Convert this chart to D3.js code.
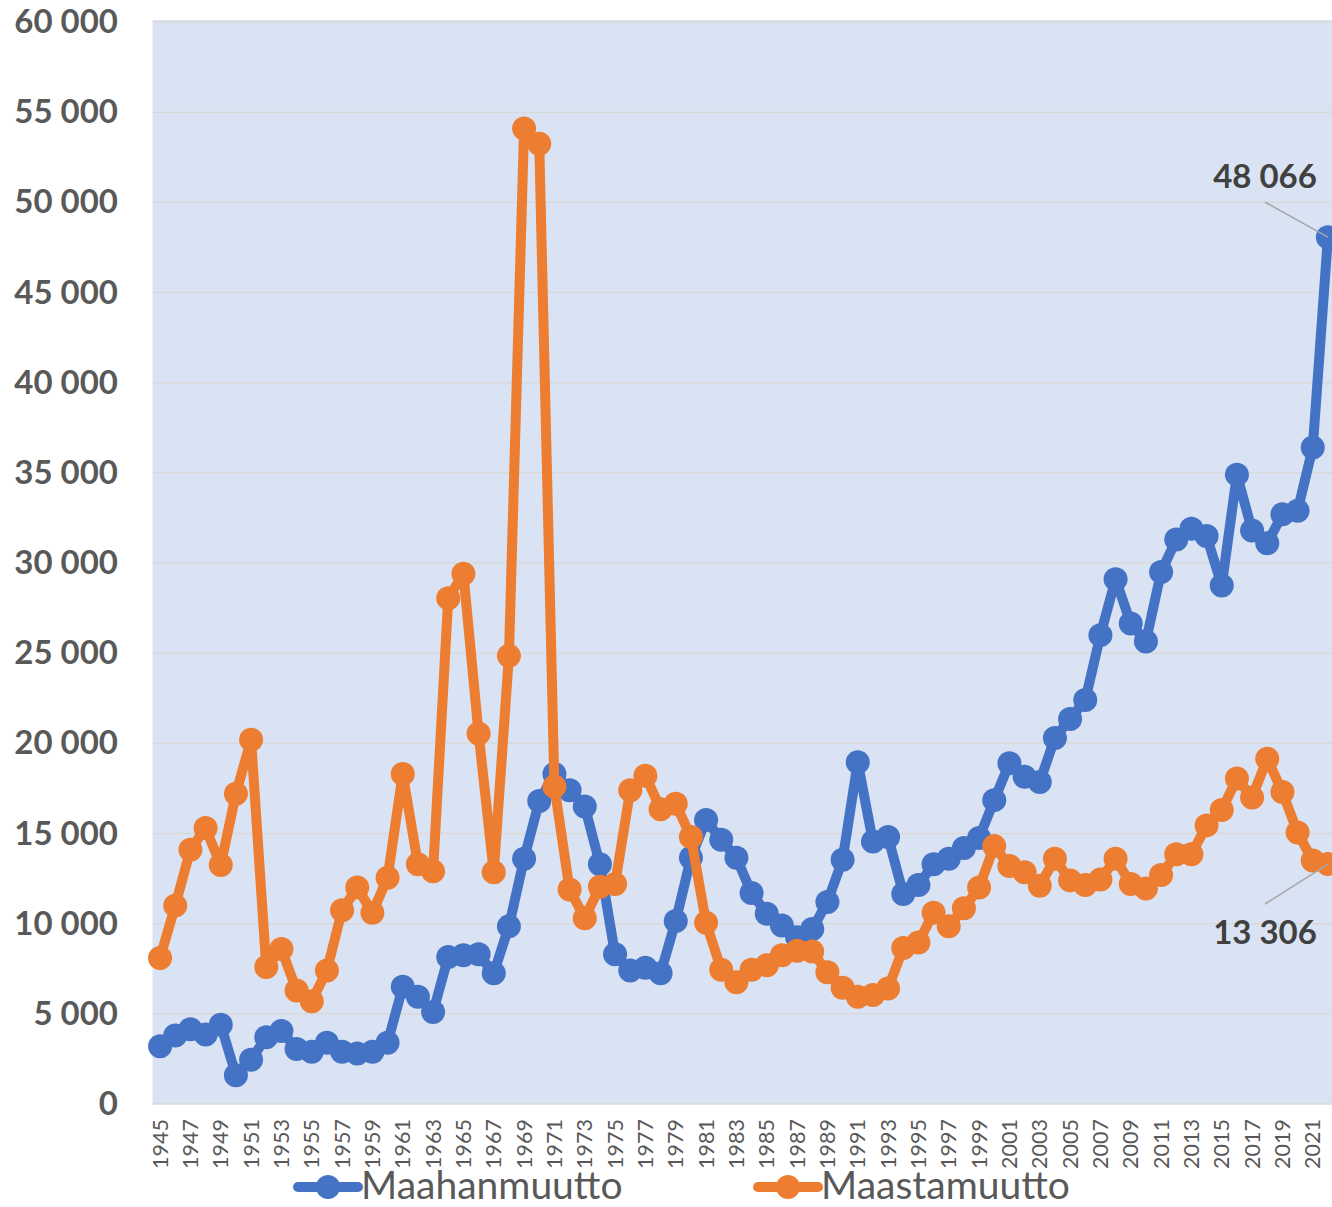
<!DOCTYPE html>
<html>
<head>
<meta charset="utf-8">
<script src="https://cdn.jsdelivr.net/npm/d3@7"></script>
<style>
  body { margin: 0; background: #fff; }
  text { font-family: Lato, "Open Sans", sans-serif; }
</style>
</head>
<body>
<script>
  // years 1945..2022
  let years = [];
  for (let y = 1945; y <= 2022; y++) years.push(y);

  // Maahanmuutto (immigration)
  let maahanmuutto = [
    3200, 3800, 4150, 3850, 4400, 1600, 2450, 3700, 4050, 3050,
    2900, 3400, 2900, 2800, 2900, 3400, 6500, 5950, 5100, 8150,
    8250, 8300, 7250, 9850, 13600, 16800, 18300, 17400, 16500, 13300,
    8300, 7400, 7550, 7250, 10150, 13650, 15750, 14650, 13650, 11700,
    10550, 9900, 9250, 9700, 11200, 13550, 18950, 14550, 14800, 11650,
    12150, 13300, 13600, 14200, 14750, 16850, 18900, 18150, 17850, 20300,
    21350, 22400, 26000, 29100, 26650, 25650, 29500, 31300, 31900, 31500,
    28750, 34900, 31800, 31100, 32700, 32900, 36400, 48066
  ];

  // Maastamuutto (emigration)
  let maastamuutto = [
    8100, 11000, 14100, 15300, 13250, 17200, 20200, 7600, 8600, 6300,
    5700, 7400, 10750, 12000, 10600, 12550, 18300, 13300, 12900, 28050,
    29400, 20550, 12850, 24850, 54100, 53250, 17600, 11900, 10300, 12050,
    12200, 17400, 18200, 16350, 16650, 14800, 10050, 7450, 6750, 7450,
    7700, 8250, 8500, 8450, 7300, 6450, 5950, 6050, 6400, 8650,
    8950, 10600, 9850, 10850, 12000, 14300, 13200, 12850, 12100, 13600,
    12400, 12150, 12450, 13600, 12200, 11950, 12700, 13850, 13850, 15450,
    16300, 18050, 17000, 19150, 17300, 15050, 13500, 13306
  ];

  let yTicks = d3.range(0, 60001, 5000);
  let seriesNames = ["Maahanmuutto", "Maastamuutto"];
  let seriesColors = ["#4472C4", "#ED7D31"];

  let width = 1332, height = 1207;
  let plot = { left: 152.5, right: 1335.5, top: 22, bottom: 1104 };

  let svgContainer = d3.select("body")
    .append("svg")
    .attr("width", width)
    .attr("height", height);

  let xScale = d3.scaleBand()
    .domain(years)
    .range([plot.left, plot.right]);
  let bw = xScale.bandwidth();
  let xMid = d => xScale(d) + bw / 2;

  let yScale = d3.scaleLinear()
    .domain([0, 60000])
    .range([plot.bottom, plot.top]);

  let fmt = d => d3.format(",")(d).replace(/,/g, " ");

  // plot background
  svgContainer.append("rect")
    .attr("x", plot.left)
    .attr("y", plot.top - 2)
    .attr("width", plot.right - plot.left)
    .attr("height", plot.bottom - plot.top + 2)
    .style("fill", "#DAE3F3");

  // gridlines
  svgContainer.append("g")
    .selectAll("line")
    .data(yTicks)
    .enter()
    .append("line")
    .attr("x1", plot.left)
    .attr("x2", plot.right)
    .attr("y1", d => yScale(d))
    .attr("y2", d => yScale(d))
    .style("stroke", "#D9D9D9")
    .attr("stroke-width", 1.5);

  // y axis
  let yAxis = svgContainer.append("g")
    .attr("transform", "translate(118, 0)")
    .call(d3.axisLeft(yScale).tickValues(yTicks).tickFormat(fmt).tickSize(0).tickPadding(0));
  yAxis.select(".domain").remove();
  yAxis.selectAll("text")
    .style("font-family", "Lato, sans-serif")
    .style("font-size", "33px")
    .style("font-weight", "bold")
    .style("fill", "#595959");

  // x axis labels (every other year)
  let xAxis = svgContainer.append("g")
    .attr("transform", "translate(0, " + plot.bottom + ")")
    .call(d3.axisBottom(xScale)
      .tickValues(years.filter(y => (y - 1945) % 2 == 0))
      .tickSize(0));
  xAxis.select(".domain").remove();
  xAxis.selectAll("text")
    .attr("transform", "rotate(-90)")
    .attr("text-anchor", "end")
    .attr("x", -15)
    .attr("y", 0)
    .attr("dy", "0.35em")
    .style("font-family", "Lato, sans-serif")
    .style("font-size", "21.5px")
    .style("fill", "#595959");

  // lines + markers
  let seriesData = [maahanmuutto, maastamuutto];
  let line = d3.line()
    .x((d, i) => xMid(years[i]))
    .y(d => yScale(d));

  seriesData.forEach((vals, s) => {
    svgContainer.append("path")
      .datum(vals)
      .attr("d", line)
      .style("fill", "none")
      .style("stroke", seriesColors[s])
      .attr("stroke-width", 10)
      .attr("stroke-linejoin", "round");

    svgContainer.append("g")
      .selectAll("circle")
      .data(vals)
      .enter()
      .append("circle")
      .attr("cx", (d, i) => xMid(years[i]))
      .attr("cy", d => yScale(d))
      .attr("r", 12)
      .style("fill", seriesColors[s]);
  });

  // data labels for the last year
  let last = years.length - 1;
  let labels = [
    { v: maahanmuutto[last], tx: 1265, ty: 188, lx: 1265, ly: 202 },
    { v: maastamuutto[last], tx: 1265, ty: 944, lx: 1265, ly: 904 }
  ];
  labels.forEach(l => {
    svgContainer.append("line")
      .attr("x1", l.lx)
      .attr("y1", l.ly)
      .attr("x2", xMid(years[last]))
      .attr("y2", yScale(l.v))
      .style("stroke", "#A6A6A6")
      .attr("stroke-width", 1.5);
    svgContainer.append("text")
      .attr("x", l.tx)
      .attr("y", l.ty)
      .attr("text-anchor", "middle")
      .style("font-size", "33px")
      .style("font-weight", "bold")
      .style("fill", "#404040")
      .text(fmt(l.v));
  });

  // legend
  let legendX = [298, 758];
  seriesNames.forEach((name, i) => {
    let g = svgContainer.append("g")
      .attr("transform", "translate(" + legendX[i] + ", 1187)");
    g.append("line")
      .attr("x1", 0).attr("x2", 60)
      .attr("y1", 0).attr("y2", 0)
      .style("stroke", seriesColors[i])
      .attr("stroke-width", 10)
      .attr("stroke-linecap", "round");
    g.append("circle")
      .attr("cx", 30).attr("cy", 0).attr("r", 12)
      .style("fill", seriesColors[i]);
    g.append("text")
      .attr("x", 63)
      .attr("y", 12)
      .style("font-size", "39px")
      .style("fill", "#595959")
      .text(name);
  });
</script>
</body>
</html>
